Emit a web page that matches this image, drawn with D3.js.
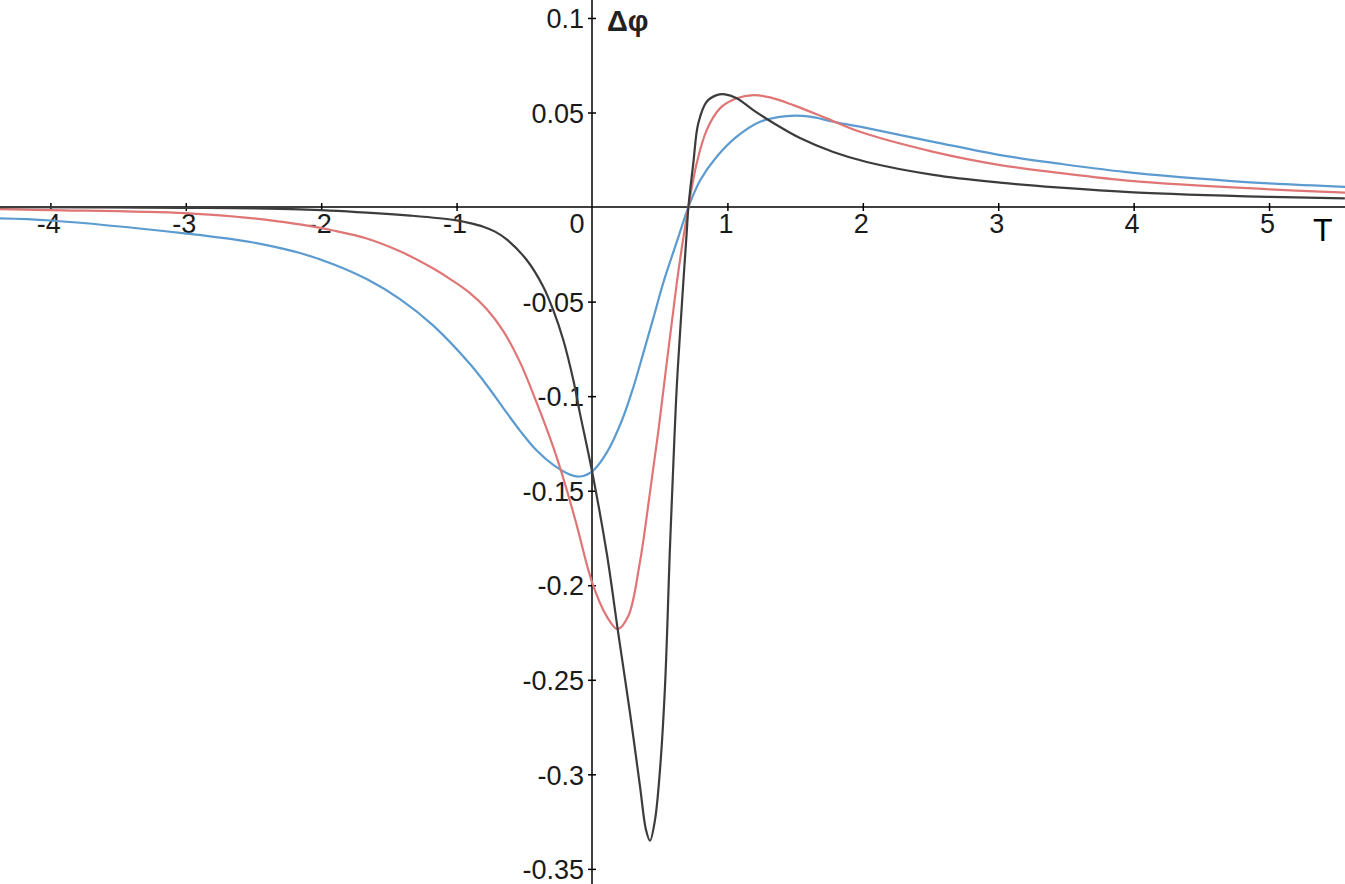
<!DOCTYPE html>
<html>
<head>
<meta charset="utf-8">
<script src="https://cdn.jsdelivr.net/npm/d3@7"></script>
<style>
  body { margin: 0; background: #fff; }
  svg { display: block; font-family: "Liberation Sans", Arial, sans-serif; }
</style>
</head>
<body>
<div id="chart"></div>
<script>
// axis ticks
const xTicks = [-4, -3, -2, -1, 1, 2, 3, 4, 5];
const yTicks = [0.1, 0.05, -0.05, -0.1, -0.15, -0.2, -0.25, -0.3, -0.35];

// curves, [T, Δφ]
const darkCurve = [
  [-4.372, -0.0001], [-3.0, -0.0004], [-2.157, -0.0012], [-1.664, -0.0029], [-1.344, -0.0045],
  [-1.010, -0.0069], [-0.901, -0.0085], [-0.803, -0.0104], [-0.716, -0.013], [-0.630, -0.0171],
  [-0.482, -0.028], [-0.360, -0.0421], [-0.286, -0.0545], [-0.212, -0.0703], [-0.138, -0.0915],
  [-0.089, -0.1091], [0, -0.1396], [0.109, -0.1831], [0.194, -0.2254], [0.281, -0.2677],
  [0.355, -0.3066], [0.399, -0.3295], [0.428, -0.3351], [0.465, -0.3242], [0.502, -0.2977],
  [0.539, -0.2537], [0.576, -0.1796], [0.608, -0.1232], [0.626, -0.095], [0.650, -0.0668],
  [0.674, -0.0403], [0.699, -0.0139], [0.712, 0], [0.748, 0.0231], [0.785, 0.0443],
  [0.847, 0.0557], [0.921, 0.0592], [0.982, 0.0596], [1.069, 0.0575], [1.191, 0.0513],
  [1.364, 0.0434], [1.536, 0.0365], [1.782, 0.0291], [2.029, 0.0238], [2.521, 0.017],
  [3.013, 0.0129], [3.432, 0.0104], [3.998, 0.0078], [4.997, 0.0054], [5.56, 0.0046]
];
const redCurve = [
  [-4.372, -0.0011], [-4.0, -0.0016], [-3.008, -0.0032], [-2.6, -0.0053], [-2.4, -0.0068],
  [-2.157, -0.0092], [-1.911, -0.0124], [-1.664, -0.0166], [-1.418, -0.0234], [-1.172, -0.0325],
  [-1.036, -0.0386], [-0.901, -0.0455], [-0.778, -0.0539], [-0.655, -0.0656], [-0.532, -0.082],
  [-0.408, -0.1036], [-0.286, -0.127], [-0.199, -0.1465], [-0.113, -0.1682], [0, -0.1983],
  [0.111, -0.2167], [0.189, -0.2232], [0.268, -0.2163], [0.354, -0.1877], [0.428, -0.151],
  [0.490, -0.1185], [0.539, -0.0899], [0.589, -0.0613], [0.626, -0.0402], [0.662, -0.0222],
  [0.712, 0], [0.773, 0.0231], [0.847, 0.0407], [0.945, 0.0522], [1.069, 0.0575],
  [1.191, 0.0592], [1.315, 0.058], [1.487, 0.0539], [1.733, 0.0469], [1.979, 0.0398],
  [2.522, 0.0292], [3.015, 0.0222], [3.434, 0.0182], [4.0, 0.0137], [5.0, 0.0094],
  [5.563, 0.0076]
];
const blueCurve = [
  [-4.372, -0.006], [-4.0, -0.0071], [-3.008, -0.0139], [-2.6, -0.0176], [-2.403, -0.0201],
  [-2.157, -0.0243], [-1.911, -0.0302], [-1.664, -0.0381], [-1.418, -0.0487], [-1.172, -0.0627],
  [-0.901, -0.083], [-0.778, -0.0941], [-0.655, -0.1063], [-0.532, -0.1182], [-0.408, -0.1288],
  [-0.286, -0.1364], [-0.163, -0.1415], [-0.089, -0.1425], [0.004, -0.1396], [0.111, -0.1296],
  [0.222, -0.1126], [0.307, -0.0949], [0.381, -0.0767], [0.455, -0.0582], [0.529, -0.0394],
  [0.628, -0.018], [0.712, 0], [0.8, 0.0143], [0.921, 0.0266], [1.069, 0.0372],
  [1.241, 0.0451], [1.438, 0.0481], [1.610, 0.0478], [1.782, 0.0451], [1.979, 0.0425],
  [2.522, 0.0345], [3.015, 0.0275], [3.434, 0.0231], [4.0, 0.0181], [5.0, 0.0125],
  [5.563, 0.0107]
];

const width = 1345, height = 884;

const svg = d3.select("#chart")
  .append("svg")
  .attr("width", width)
  .attr("height", height);

const x = d3.scaleLinear().domain([-4.372, 5.561]).range([0, width]);
const y = d3.scaleLinear().domain([0.1095, -0.358]).range([0, height]);

// x axis through Δφ = 0
const xAxis = svg.append("g")
  .attr("transform", `translate(0,${y(0)})`)
  .call(d3.axisBottom(x).tickValues(xTicks).tickSize(0).tickPadding(0)
    .tickFormat(d => d < 0 ? "-" + Math.abs(d) : d));
xAxis.select(".domain").remove();
xAxis.selectAll(".tick line").attr("y1", -4).attr("y2", 4).attr("stroke", "#000").attr("stroke-width", 1.5);
xAxis.selectAll(".tick text")
  .attr("dy", 0).attr("y", 26).attr("x", -2)
  .attr("font-size", 27).attr("font-family", null).attr("fill", "#1a1a1a");
svg.append("line")
  .attr("x1", 0).attr("x2", width)
  .attr("y1", y(0)).attr("y2", y(0))
  .attr("stroke", "#000").attr("stroke-width", 1.5);

// y axis through T = 0
const yAxis = svg.append("g")
  .attr("transform", `translate(${x(0)},0)`)
  .call(d3.axisLeft(y).tickValues(yTicks).tickSize(0).tickPadding(0)
    .tickFormat(d => d < 0 ? "-" + String(Math.abs(d)) : String(d)));
yAxis.select(".domain").remove();
yAxis.selectAll(".tick line").attr("x1", -4).attr("x2", 4).attr("stroke", "#000").attr("stroke-width", 1.5);
yAxis.selectAll(".tick text")
  .attr("x", -8).attr("dy", "0.36em")
  .attr("font-size", 27).attr("font-family", null).attr("fill", "#1a1a1a");
svg.append("line")
  .attr("x1", x(0)).attr("x2", x(0))
  .attr("y1", 0).attr("y2", height)
  .attr("stroke", "#000").attr("stroke-width", 1.5);

// origin label
svg.append("text")
  .attr("x", x(0) - 15).attr("y", y(0) + 26)
  .attr("text-anchor", "middle")
  .attr("font-size", 27).attr("fill", "#1a1a1a")
  .text("0");

// axis names
svg.append("text")
  .attr("x", x(0) + 15).attr("y", 31)
  .attr("font-size", 29).attr("font-weight", "bold").attr("fill", "#222")
  .text("Δφ");
svg.append("text")
  .attr("x", 1313).attr("y", y(0) + 34)
  .attr("font-size", 32).attr("fill", "#000")
  .text("T");

const line = d3.line()
  .x(d => x(d[0]))
  .y(d => y(d[1]))
  .curve(d3.curveCatmullRom.alpha(0.5));

const series = [
  { name: "blue", data: blueCurve, color: "#5b9bd0" },
  { name: "red", data: redCurve, color: "#e07575" },
  { name: "dark", data: darkCurve, color: "#3c3c3c" }
];

svg.selectAll("path.curve")
  .data(series)
  .join("path")
  .attr("class", d => `curve curve-${d.name}`)
  .attr("d", d => line(d.data))
  .attr("fill", "none")
  .attr("stroke", d => d.color)
  .attr("stroke-width", 2.2);
</script>
</body>
</html>
